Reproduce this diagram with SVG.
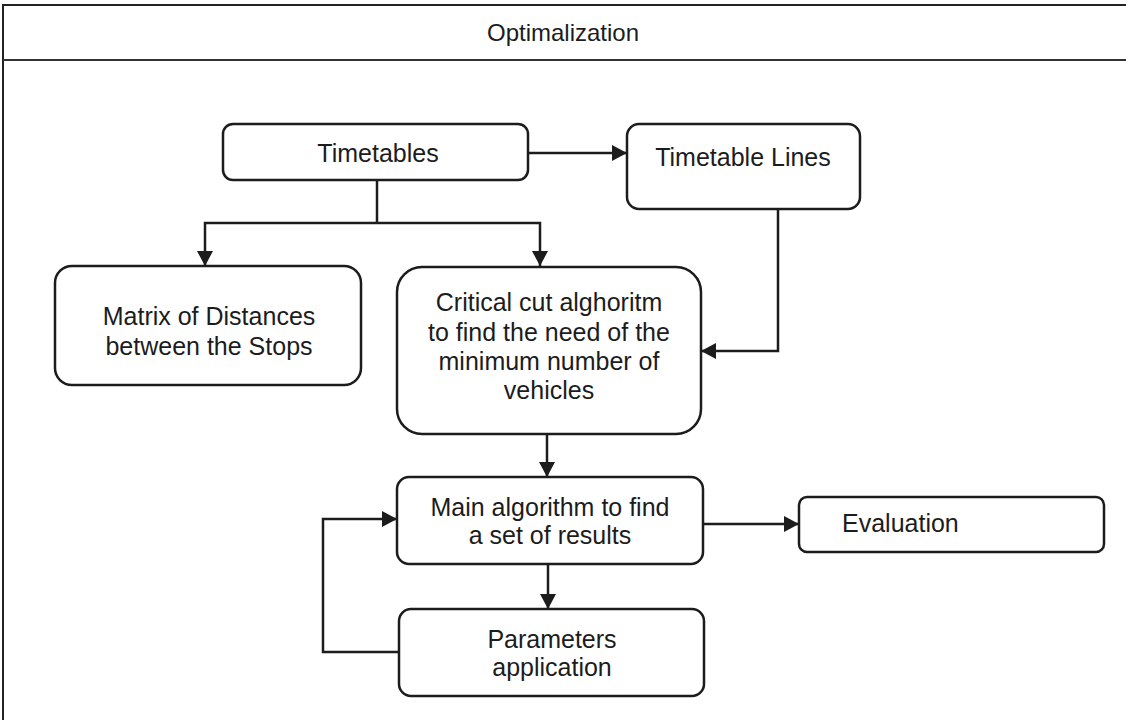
<svg xmlns="http://www.w3.org/2000/svg" width="1126" height="720" viewBox="0 0 1126 720">
  <style>
    .frame { fill: #ffffff; stroke: #222222; stroke-width: 2; }
    .box { fill: #ffffff; stroke: #1c1c1c; stroke-width: 2.5; }
    .lbl { font-family: "Liberation Sans", Arial, sans-serif; font-size: 25px; fill: #1c1c1c; text-anchor: middle; }
    .title { font-family: "Liberation Sans", Arial, sans-serif; font-size: 24px; fill: #1c1c1c; text-anchor: middle; }
    .wire { fill: none; stroke: #1c1c1c; stroke-width: 2.5; }
  </style>
  <defs>
    <marker id="arrow" viewBox="0 0 15 16" refX="15" refY="8" markerWidth="15" markerHeight="16" markerUnits="userSpaceOnUse" orient="auto">
      <path d="M0,0 L15,8 L0,16 Z" fill="#1c1c1c"/>
    </marker>
  </defs>

  <rect width="1126" height="720" fill="#ffffff"/>

  <!-- outer pool frame with header band -->
  <g id="frame">
    <rect class="frame" x="3" y="5" width="1130" height="720"/>
    <line x1="3" y1="60" x2="1126" y2="60" stroke="#333333" stroke-width="2"/>
    <text class="title" x="563" y="41">Optimalization</text>
  </g>

  <!-- connectors -->
  <g id="connectors">
    <path class="wire" d="M377,180 V223"/>
    <path class="wire" d="M377,223 H205 V266" marker-end="url(#arrow)"/>
    <path class="wire" d="M377,223 H540 V266" marker-end="url(#arrow)"/>
    <path class="wire" d="M528,153 H627" marker-end="url(#arrow)"/>
    <path class="wire" d="M778,209 V351 H701" marker-end="url(#arrow)"/>
    <path class="wire" d="M547,434 V477" marker-end="url(#arrow)"/>
    <path class="wire" d="M548,564 V609" marker-end="url(#arrow)"/>
    <path class="wire" d="M399,652 H323 V519 H397" marker-end="url(#arrow)"/>
    <path class="wire" d="M703,524 H799" marker-end="url(#arrow)"/>
  </g>

  <g id="timetables">
    <rect class="box" x="223" y="124" width="305" height="56" rx="10"/>
    <text class="lbl" x="378" y="162">Timetables</text>
  </g>

  <g id="timetable-lines">
    <rect class="box" x="627" y="124" width="233" height="85" rx="12"/>
    <text class="lbl" x="743" y="166">Timetable Lines</text>
  </g>

  <g id="matrix">
    <rect class="box" x="55" y="266" width="306" height="119" rx="17"/>
    <text class="lbl" x="209" y="325">Matrix of Distances</text>
    <text class="lbl" x="209" y="355">between the Stops</text>
  </g>

  <g id="critical-cut">
    <rect class="box" x="397" y="267" width="304" height="167" rx="25"/>
    <text class="lbl" x="549" y="311">Critical cut alghoritm</text>
    <text class="lbl" x="549" y="341">to find the need of the</text>
    <text class="lbl" x="549" y="370">minimum number of</text>
    <text class="lbl" x="549" y="399">vehicles</text>
  </g>

  <g id="main-algorithm">
    <rect class="box" x="397" y="477" width="306" height="87" rx="12"/>
    <text class="lbl" x="550" y="516">Main algorithm to find</text>
    <text class="lbl" x="550" y="544">a set of results</text>
  </g>

  <g id="evaluation">
    <rect class="box" x="799" y="497" width="305" height="55" rx="8"/>
    <text class="lbl" x="842" y="532" style="text-anchor:start">Evaluation</text>
  </g>

  <g id="parameters">
    <rect class="box" x="399" y="609" width="305" height="87" rx="12"/>
    <text class="lbl" x="552" y="648">Parameters</text>
    <text class="lbl" x="552" y="676">application</text>
  </g>
</svg>
